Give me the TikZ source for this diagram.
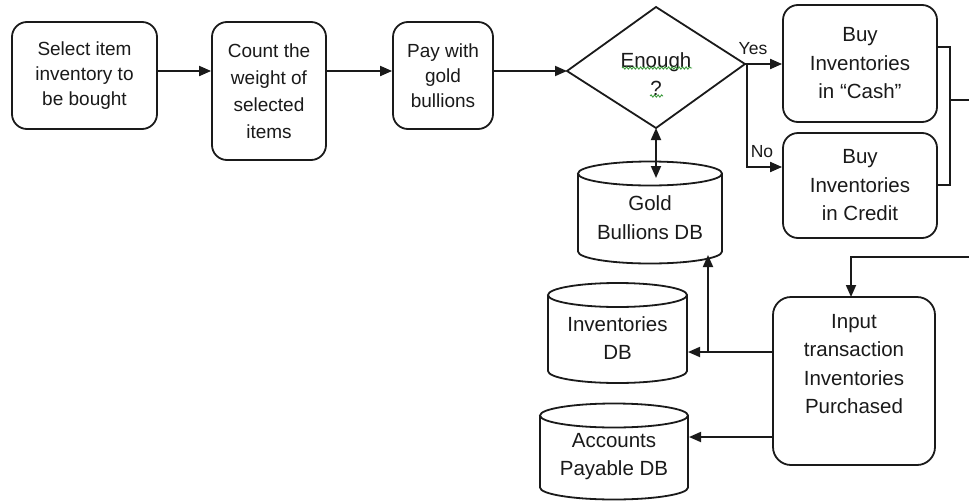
\documentclass[tikz,border=0pt]{standalone}
\usepackage{fontspec}
\setmainfont{Liberation Sans}
\usetikzlibrary{arrows.meta,decorations.pathmorphing}
\definecolor{ink}{HTML}{1A1A1A}
\definecolor{spellmark}{HTML}{3C9A3C}
% database cylinder drawn around its text node:
% #1 node, #2 half width, #3 half height (body sits 5 above the text centre)
\newcommand\dbdraw[3]{%
  \draw[edge] ([shift={(-#2,-#3-5+12)}]#1.center)
    -- ([shift={(-#2,#3-5-12)}]#1.center)
    arc[start angle=180,end angle=360,x radius=#2pt,y radius=12pt]
    -- ([shift={(#2,-#3-5+12)}]#1.center)
    arc[start angle=0,end angle=360,x radius=#2pt,y radius=12pt];}
\begin{document}
\begin{tikzpicture}[x=1pt,y=-1pt,
  every node/.style={text=ink},
  edge/.style={draw=ink,line width=1.8pt},
  flow/.style={edge,-{Triangle[length=12pt,width=10pt]}},
  dflow/.style={edge,{Triangle[length=12pt,width=10pt]}-{Triangle[length=12pt,width=10pt]}},
  proc/.style={edge,rounded corners=15pt,align=center,inner sep=0pt},
  topfont/.style={font=\fontsize{19}{25}\selectfont},
  lowfont/.style={font=\fontsize{20.5}{28.5}\selectfont},
  txt/.style={align=center,inner sep=0pt},
  tag/.style={font=\fontsize{17.5}{20}\selectfont,inner sep=0pt},
  spell/.style={draw=spellmark,line width=0.9pt,decorate,
    decoration={snake,amplitude=1.1pt,segment length=3.5pt}}]
\useasboundingbox (0,0) rectangle (969,501);
\fill[white] (0,0) rectangle (969,501);

% --- process boxes ---
\node[proc,topfont,minimum width=145,minimum height=107] (select) at (84.5,75.5)
  {Select item\\inventory to\\be bought};
\node[proc,font=\fontsize{19}{27}\selectfont,minimum width=114,minimum height=138] (count) at (269,91)
  {Count the\\weight of\\selected\\items};
\node[proc,topfont,minimum width=100,minimum height=107] (pay) at (443,75.5)
  {Pay with\\gold\\bullions};
\node[proc,lowfont,minimum width=154,minimum height=117] (cash) at (860,63.5)
  {Buy\\Inventories\\in “Cash”};
\node[proc,lowfont,minimum width=154,minimum height=105] (credit) at (860,185.5)
  {Buy\\Inventories\\in Credit};

% input transaction box (text sits in the upper part)
\node[txt,lowfont] (input) at (854,364) {Input\\transaction\\Inventories\\Purchased};
\draw[edge,rounded corners=18pt] ([shift={(-81,-67)}]input.center) rectangle ([shift={(81,101)}]input.center);

% --- decision ---
\node[txt,font=\fontsize{20.5}{27.5}\selectfont] (enough) at (656,74) {Enough\\?};
\coordinate (dN) at ([shift={(0,-67)}]enough.center);
\coordinate (dE) at ([shift={(89,-10)}]enough.center);
\coordinate (dS) at ([shift={(0,54)}]enough.center);
\coordinate (dW) at ([shift={(-89,-3)}]enough.center);
\draw[edge,line join=miter] (dN) -- (dE) -- (dS) -- (dW) -- cycle;
\draw[spell] ([shift={(-34,-6)}]enough.center) -- ([shift={(36,-6)}]enough.center);
\draw[spell] ([shift={(-6,22)}]enough.center) -- ([shift={(7,22)}]enough.center);

% --- databases ---
\node[txt,lowfont] (gold) at (650,217.5) {Gold\\Bullions DB};
\dbdraw{gold}{72}{51}
\node[txt,lowfont] (inv) at (617.5,338) {Inventories\\DB};
\dbdraw{inv}{69.5}{50}
\node[txt,lowfont] (ap) at (614,456.5) {Accounts\\Payable DB};
\dbdraw{ap}{74}{48}

% --- connector end points ---
\coordinate (split) at ([xshift=2]dE);
\coordinate (busR) at (950,100);
\coordinate (exitR) at (969,100);
\coordinate (entryR) at (969,257);
\coordinate (inTop) at (851,297);
\coordinate (goldTop) at (656,178);
\coordinate (goldIn) at (708,255);
\coordinate (invIn) at (688,352);
\coordinate (apIn) at (689,437);
\coordinate (out1) at (773,352);
\coordinate (out2) at (773,437);

% --- main flow ---
\draw[flow] (select.east |- 0,71) -- (count.west |- 0,71);
\draw[flow] (count.east |- 0,71) -- (pay.west |- 0,71);
\draw[flow] (pay.east |- 0,71) -- (dW |- 0,71);
\draw[flow] (dE) -- (cash.west |- dE);
\draw[flow] (split) |- (credit.west |- 0,167);
\node[tag] (yes) at (753,49) {Yes};
\node[tag] (no) at (762,152) {No};
\draw[dflow] (dS) -- (goldTop);

% --- join of both purchases, leaving and re-entering at the right ---
\draw[edge] (cash.east |- 0,47) -| (busR) |- (credit.east |- 0,185);
\draw[edge] (busR) -- (exitR);
\draw[flow] (entryR) -| (inTop);

% --- postings to the databases ---
\draw[flow] (out1) -- (invIn);
\draw[flow] (out1 -| goldIn) -- (goldIn);
\draw[flow] (out2) -- (apIn);
\end{tikzpicture}
\end{document}
